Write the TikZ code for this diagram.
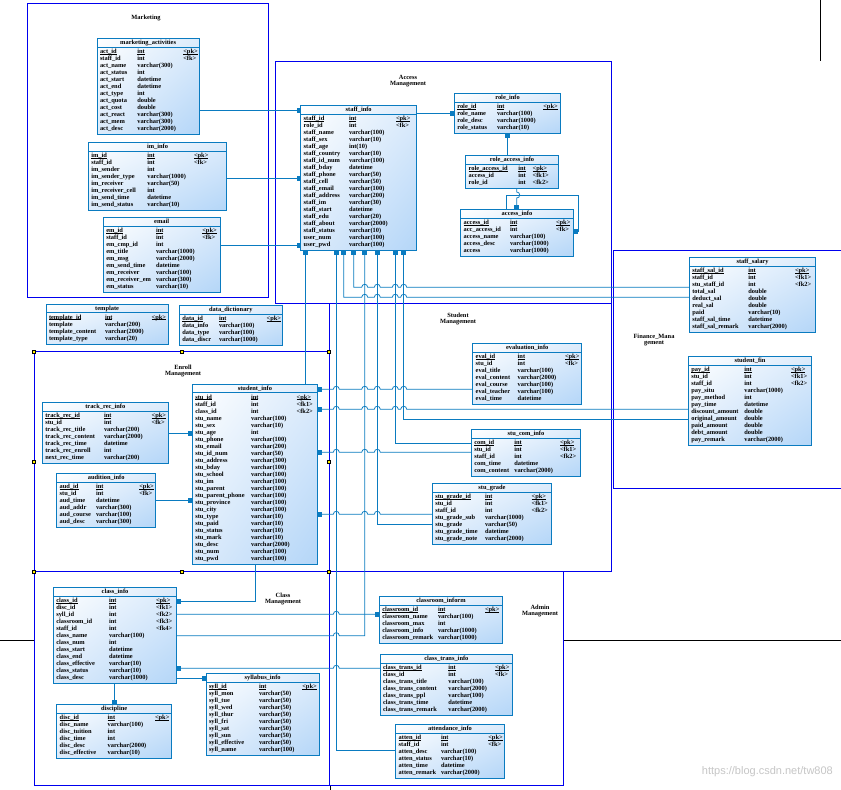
\documentclass[tikz,border=0pt]{standalone}
\usepackage{fontspec}
\setmainfont{Liberation Serif}
\usetikzlibrary{arrows.meta,fit,calc,shadings}
\definecolor{tblc}{HTML}{0A7BC0}
\definecolor{tblfill}{HTML}{B4D6F8}
\definecolor{tblmid}{HTML}{DCEBFB}
\definecolor{pkgc}{HTML}{0000EE}
\newcommand\ertxt{\fontsize{6.4}{6.6}\selectfont\bfseries}
\newcommand\erul[1]{\setbox0\hbox{#1}\rlap{\rule[-0.9pt]{\wd0}{0.45pt}}\box0}
\tikzset{
 rowtxt/.style={anchor=west, inner sep=0pt, outer sep=0pt, text height=4pt, text depth=1pt, font=\ertxt},
 ttl/.style={anchor=center, inner sep=0pt, text height=4pt, text depth=1pt, font=\ertxt},
 fk/.style={draw=tblc, line width=0.75pt, -{Rectangle[length=4pt,width=4.5pt]}},
 pkg/.style={draw=pkgc, line width=1pt},
 pkglbl/.style={font=\ertxt, align=center, inner sep=0pt},
 pagel/.style={draw=black, line width=0.6pt},
}
\newcommand\erbox[9]{%
  \pgfmathsetmacro\erbot{#3+12+7*#5}%
  \shade[upper left=white, upper right=tblmid, lower left=tblmid, lower right=tblfill] (#2,#3) rectangle (#4,\erbot);
  \draw[tblc, line width=0.8pt] (#2,#3) rectangle (#4,\erbot);
  \draw[tblc, line width=0.8pt] (#2,#3+8.7) -- (#4,#3+8.7);
  \node[ttl] at ({(#2+#4)/2},#3+4.6) {#6};
  \path (#2,#3) coordinate (#1nw) (#4,\erbot) coordinate (#1se);
  \node[fit=(#1nw)(#1se), inner sep=0pt, outer sep=0pt] (#1) {};
  \foreach \ca/\cb/\cc [count=\ci] in {#9} {
    \pgfmathsetmacro\ery{#3+13.5+7*(\ci-1)}
    \ifnum\ci=1
      \node[rowtxt] at (#2+3,\ery) {\erul{\ca}};
      \node[rowtxt] at (#7,\ery) {\erul{\cb}};
      \node[rowtxt] at (#8,\ery) {\erul{\cc}};
    \else
      \node[rowtxt] at (#2+3,\ery) {\ca};
      \node[rowtxt] at (#7,\ery) {\cb};
      \node[rowtxt] at (#8,\ery) {\cc};
    \fi
  }%
}
\newcommand\handle[2]{\fill[black] (#1-2,#2-2) rectangle (#1+2,#2+2); \fill[yellow] (#1-1,#2-1) rectangle (#1+1,#2+1);}
\begin{document}
\catcode`\_=12
\begin{tikzpicture}[x=1pt,y=-1pt]
\useasboundingbox (0,0) rectangle (841,790);
\fill[white] (0,0) rectangle (841,790);

% page grid lines
\draw[pagel] (0,640) -- (34,640);
\draw[pagel] (563,640) -- (841,640);
\draw[pagel] (820,0) -- (820,61);
\draw[pagel] (330,785) -- (330,790);

% packages
\draw[pkg] (27,3) rectangle (268,297);
\draw[pkg] (275,61) rectangle (611,303);
\draw[pkg] (329,303) rectangle (611,571);
\draw[pkg] (613,250) rectangle (845,488);
\draw[pkg] (34,351.5) rectangle (329,571.5);
\draw[pkg] (34,571.5) rectangle (329,785);
\draw[pkg] (329,571.5) rectangle (563,785);
\node[pkglbl] (lmkt) at (146,18) {Marketing};
\node[pkglbl] (lacc) at (408,81) {Access\\Management};
\node[pkglbl] (lstu) at (458,319) {Student\\Management};
\node[pkglbl] (lfin) at (654,340) {Finance_Mana\\gement};
\node[pkglbl] (lenr) at (183,371) {Enroll\\Management};
\node[pkglbl] (lcls) at (283,599) {Class\\Management};
\node[pkglbl] (ladm) at (540,611) {Admin\\Management};

% tables
\erbox{mkt}{97}{38.3}{199.3}{12}{marketing_activities}{137.3}{183.3}{act_id/int/<pk>, staff_id/int/<fk>, act_name/varchar(300)/, act_status/int/, act_start/datetime/, act_end/datetime/, act_type/int/, act_quota/double/, act_cost/double/, act_react/varchar(300)/, act_mem/varchar(300)/, act_desc/varchar(2000)/}
\erbox{im}{88.3}{142.7}{226.7}{8}{im_info}{147.3}{194}{im_id/int/<pk>, staff_id/int/<fk>, im_sender/int/, im_sender_type/varchar(1000)/, im_receiver/varchar(50)/, im_receiver_cell/int/, im_send_time/datetime/, im_send_status/varchar(10)/}
\erbox{email}{103.3}{217.3}{220}{9}{email}{156}{202.3}{em_id/int/<pk>, staff_id/int/<fk>, em_cmp_id/int/, em_title/varchar(1000)/, em_msg/varchar(2000)/, em_send_time/datetime/, em_receiver/varchar(100)/, em_receiver_em/varchar(300)/, em_status/varchar(10)/}
\erbox{tmpl}{46}{304}{168.3}{4}{template}{105}{151.7}{template_id/int/<pk>, template/varchar(200)/, template_content/varchar(2000)/, template_type/varchar(20)/}
\erbox{dict}{179.3}{305.3}{282.3}{4}{data_dictionary}{219}{266.7}{data_id/int/<pk>, data_info/varchar(100)/, data_type/varchar(100)/, data_discr/varchar(1000)/}
\erbox{staff}{300.7}{105.7}{416.7}{19}{staff_info}{349}{396}{staff_id/int/<pk>, role_id/int/<fk>, staff_name/varchar(100)/, staff_sex/varchar(10)/, staff_age/int(10)/, staff_country/varchar(10)/, staff_id_num/varchar(100)/, staff_bday/datetime/, staff_phone/varchar(50)/, staff_cell/varchar(50)/, staff_email/varchar(100)/, staff_address/varchar(200)/, staff_im/varchar(30)/, staff_start/datetime/, staff_edu/varchar(20)/, staff_about/varchar(2000)/, staff_status/varchar(10)/, user_num/varchar(100)/, user_pwd/varchar(100)/}
\erbox{role}{454.3}{93.3}{560.7}{4}{role_info}{497}{543.3}{role_id/int/<pk>, role_name/varchar(100)/, role_desc/varchar(1000)/, role_status/varchar(10)/}
\erbox{roleacc}{465.7}{155.7}{558.3}{3}{role_access_info}{518.3}{532.7}{role_access_id/int/<pk>, access_id/int/<fk1>, role_id/int/<fk2>}
\erbox{access}{460.7}{209.3}{573.3}{5}{access_info}{510}{556}{access_id/int/<pk>, acc_access_id/int/<fk>, access_name/varchar(100)/, access_desc/varchar(1000)/, access/varchar(1000)/}
\erbox{salary}{689.3}{257.3}{815.7}{9}{staff_salary}{748.3}{795}{staff_sal_id/int/<pk>, staff_id/int/<fk1>, stu_staff_id/int/<fk2>, total_sal/double/, deduct_sal/double/, real_sal/double/, paid/varchar(10)/, staff_sal_time/datetime/, staff_sal_remark/varchar(2000)/}
\erbox{fin}{688.3}{356.7}{811.7}{11}{student_fin}{744.3}{791}{pay_id/int/<pk>, stu_id/int/<fk1>, staff_id/int/<fk2>, pay_situ/varchar(1000)/, pay_method/int/, pay_time/datetime/, discount_amount/double/, original_amount/double/, paid_amount/double/, debt_amount/double/, pay_remark/varchar(2000)/}
\erbox{eval}{472.7}{343.3}{581.7}{7}{evaluation_info}{517.7}{565}{eval_id/int/<pk>, stu_id/int/<fk>, eval_title/varchar(100)/, eval_content/varchar(2000)/, eval_course/varchar(100)/, eval_teacher/varchar(100)/, eval_time/datetime/}
\erbox{com}{471.3}{429.3}{580.7}{5}{stu_com_info}{514.3}{560}{com_id/int/<pk>, stu_id/int/<fk1>, staff_id/int/<fk2>, com_time/datetime/, com_content/varchar(2000)/}
\erbox{grade}{432.3}{483.3}{551.7}{7}{stu_grade}{485}{531.7}{stu_grade_id/int/<pk>, stu_id/int/<fk1>, staff_id/int/<fk2>, stu_grade_sub/varchar(1000)/, stu_grade/varchar(50)/, stu_grade_time/datetime/, stu_grade_note/varchar(2000)/}
\erbox{track}{42.3}{402.3}{168.3}{7}{track_rec_info}{104}{151.7}{track_rec_id/int/<pk>, stu_id/int/<fk>, track_rec_title/varchar(200)/, track_rec_content/varchar(2000)/, track_rec_time/datetime/, track_rec_enroll/int/, next_rec_time/varchar(200)/}
\erbox{aud}{56.7}{473.3}{155.7}{6}{audition_info}{96}{139.3}{aud_id/int/<pk>, stu_id/int/<fk>, aud_time/datetime/, aud_addr/varchar(300)/, aud_course/varchar(100)/, aud_desc/varchar(300)/}
\erbox{stu}{192.3}{384}{317.5}{24}{student_info}{251}{296.7}{stu_id/int/<pk>, staff_id/int/<fk1>, class_id/int/<fk2>, stu_name/varchar(100)/, stu_sex/varchar(10)/, stu_age/int/, stu_phone/varchar(100)/, stu_email/varchar(200)/, stu_id_num/varchar(50)/, stu_address/varchar(300)/, stu_bday/varchar(100)/, stu_school/varchar(100)/, stu_im/varchar(100)/, stu_parent/varchar(100)/, stu_parent_phone/varchar(100)/, stu_province/varchar(100)/, stu_city/varchar(100)/, stu_type/varchar(10)/, stu_paid/varchar(10)/, stu_status/varchar(10)/, stu_mark/varchar(10)/, stu_desc/varchar(2000)/, stu_num/varchar(100)/, stu_pwd/varchar(100)/}
\erbox{class}{53.3}{587.3}{176.7}{12}{class_info}{109}{156}{class_id/int/<pk>, disc_id/int/<fk1>, syll_id/int/<fk2>, classroom_id/int/<fk3>, staff_id/int/<fk4>, class_name/varchar(100)/, class_num/int/, class_start/datetime/, class_end/datetime/, class_effective/varchar(10)/, class_status/varchar(10)/, class_desc/varchar(1000)/}
\erbox{disc}{56.7}{704.3}{171.7}{6}{discipline}{107.7}{155}{disc_id/int/<pk>, disc_name/varchar(100)/, disc_tuition/int/, disc_time/int/, disc_desc/varchar(2000)/, disc_effective/varchar(10)/}
\erbox{syll}{206}{673.7}{319.3}{10}{syllabus_info}{259}{302.3}{syll_id/int/<pk>, syll_mon/varchar(50)/, syll_tue/varchar(50)/, syll_wed/varchar(50)/, syll_thur/varchar(50)/, syll_fri/varchar(50)/, syll_sat/varchar(50)/, syll_sun/varchar(50)/, syll_effective/varchar(50)/, syll_name/varchar(100)/}
\erbox{room}{379.3}{596.7}{502.7}{5}{classroom_inform}{438}{485}{classroom_id/int/<pk>, classroom_name/varchar(100)/, classroom_max/int/, classroom_info/varchar(1000)/, classroom_remark/varchar(1000)/}
\erbox{trans}{380}{654.3}{512.7}{7}{class_trans_info}{448.3}{495}{class_trans_id/int/<pk>, class_id/int/<fk>, class_trans_title/varchar(100)/, class_trans_content/varchar(2000)/, class_trans_ppl/varchar(100)/, class_trans_time/datetime/, class_trans_remark/varchar(2000)/}
\erbox{atten}{395.7}{724.3}{504.3}{6}{attendance_info}{441}{488.3}{atten_id/int/<pk>, staff_id/int/<fk>, atten_desc/varchar(100)/, atten_status/varchar(10)/, atten_time/datetime/, atten_remark/varchar(2000)/}

% connectors
\draw[fk] (mkt.east |- 0,110.5) -- (staff.west |- 0,110.5);
\draw[fk] (im.east |- 0,178) -- (staff.west |- 0,178);
\draw[fk] (email.east |- 0,245.5) -- (staff.west |- 0,245.5);
\draw[fk] (staff.east |- 0,113.3) -- (role.west |- 0,113.3);
\draw[fk] (roleacc.north -| 507.3,0) -- (role.south -| 507.3,0);
\draw[fk] (roleacc.south -| 516.7,0) -- (516.7,192) .. controls (520.7,192) and (520.7,198) .. (516.7,198) -- (access.north -| 516.7,0);
\draw[fk] (access.north -| 506,0) |- (578.3,195) |- (access.east |- 0,231.7);

% staff_salary
\draw[fk] (salary.west |- 0,287.3) \foreach \hx in {403.7,395.3,377.3,364.7} { -- (\hx+3,287.3) .. controls (\hx+3,283.3) and (\hx-3,283.3) .. (\hx-3,287.3) } -| (staff.south -| 353.7,0);
\draw[fk] (salary.west |- 0,297.3) \foreach \hx in {403.7,395.3,377.3,364.7} { -- (\hx+3,297.3) .. controls (\hx+3,293.3) and (\hx-3,293.3) .. (\hx-3,297.3) } -| (staff.south -| 343.7,0);
% student area
\draw[fk] (eval.west |- 0,389.3) \foreach \hx in {403.7,395.3,377.3,364.7,336.3} { -- (\hx+3,389.3) .. controls (\hx+3,385.3) and (\hx-3,385.3) .. (\hx-3,389.3) } -- (stu.east |- 0,389.3);
\draw[fk] (fin.west |- 0,409.3) \foreach \hx in {403.7,395.3,377.3,364.7,336.3} { -- (\hx+3,409.3) .. controls (\hx+3,405.3) and (\hx-3,405.3) .. (\hx-3,409.3) } -- (stu.east |- 0,409.3);
\draw[fk] (fin.west |- 0,419) -| (staff.south -| 403.7,0);
\draw[fk] (com.west |- 0,443.3) -| (staff.south -| 395.3,0);
\draw[fk] (com.west |- 0,452.3) \foreach \hx in {377.3,364.7,336.3} { -- (\hx+3,452.3) .. controls (\hx+3,448.3) and (\hx-3,448.3) .. (\hx-3,452.3) } -- (stu.east |- 0,452.3);
\draw[fk] (grade.west |- 0,514.3) \foreach \hx in {377.3,364.7,336.3} { -- (\hx+3,514.3) .. controls (\hx+3,510.3) and (\hx-3,510.3) .. (\hx-3,514.3) } -- (stu.east |- 0,514.3);
\draw[fk] (grade.west |- 0,524.3) -| (staff.south -| 377.3,0);
\draw[fk] (stu.north -| 305,0) -- (staff.south -| 305,0);
% enroll
\draw[fk] (track.east |- 0,433.3) -- (stu.west |- 0,433.3);
\draw[fk] (aud.east |- 0,500) -- (stu.west |- 0,500);
% class
\draw[fk] (stu.south -| 255.7,0) |- (class.east |- 0,601.7);
\draw[fk] (class.south -| 114.3,0) -- (disc.north -| 114.3,0);
\draw[fk] (class.east |- 0,678.3) -- (syll.west |- 0,678.3);
\draw[fk] (class.east |- 0,614.3) -- (333.3,614.3) .. controls (333.3,610.3) and (339.3,610.3) .. (339.3,614.3) -- (room.west |- 0,614.3);
\draw[fk] (class.east |- 0,635.7) -- (333.3,635.7) .. controls (333.3,631.7) and (339.3,631.7) .. (339.3,635.7) -| (staff.south -| 364.7,0);
\draw[fk] (trans.west |- 0,668.3) -- (339.3,668.3) .. controls (339.3,664.3) and (333.3,664.3) .. (333.3,668.3) -- (class.east |- 0,668.3);
\draw[fk] (atten.west |- 0,750) -| (staff.south -| 336.3,0);

% selection handles
\handle{34}{351.5}\handle{182}{351.5}\handle{329}{351.5}
\handle{34}{461.5}\handle{329}{461.5}
\handle{34}{571.5}\handle{182}{571.5}\handle{329}{571.5}

\node[font=\fontspec{Liberation Sans}\fontsize{11}{12}\selectfont, text=gray!45, anchor=east, inner sep=0pt] (wm) at (833,772) {https://blog.csdn.net/tw808};
\end{tikzpicture}
\end{document}
